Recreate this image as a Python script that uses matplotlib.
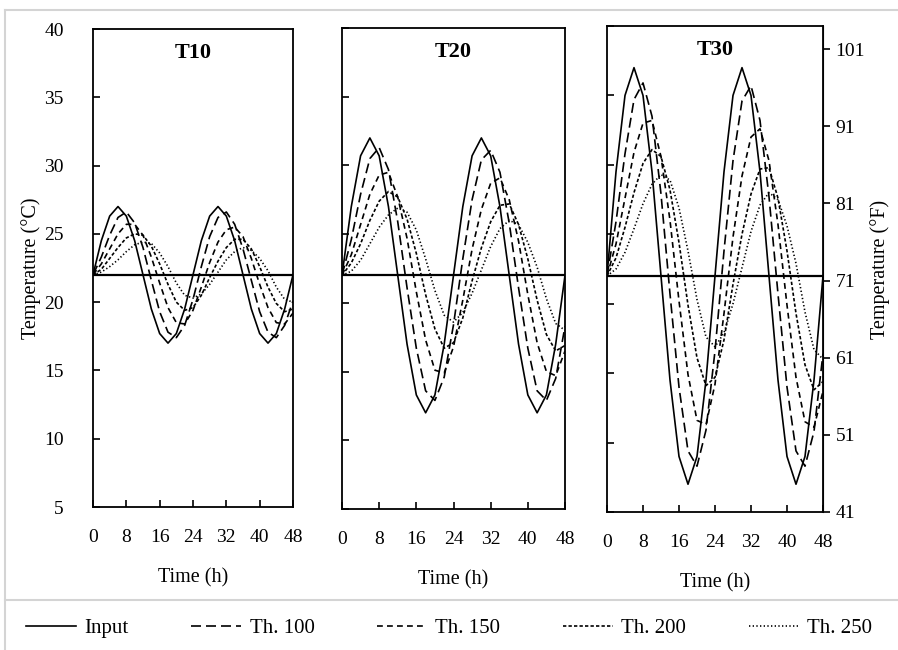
import matplotlib
matplotlib.use('Agg')
import matplotlib.pyplot as plt
from matplotlib.lines import Line2D

# ---------------- data ----------------
hours = [0, 2, 4, 6, 8, 10, 12, 14, 16, 18, 20, 22, 24, 26, 28, 30, 32, 34, 36, 38, 40, 42, 44, 46, 48]
x_ticks = [0, 8, 16, 24, 32, 40, 48]
c_ticks = [5, 10, 15, 20, 25, 30, 35, 40]
f_ticks = [41, 51, 61, 71, 81, 91, 101]
setpoint = 22
panel_titles = ['T10', 'T20', 'T30']
series_names = ['Input', 'Th. 100', 'Th. 150', 'Th. 200', 'Th. 250']

t10_input = [22.0, 24.5, 26.3, 27.0, 26.3, 24.5, 22.0, 19.5, 17.7, 17.0, 17.7, 19.5, 22.0, 24.5, 26.3, 27.0, 26.3, 24.5, 22.0, 19.5, 17.7, 17.0, 17.7, 19.5, 22.0]
t10_th100 = [22.0, 23.3, 24.9, 26.2, 26.6, 25.8, 24.0, 21.6, 19.3, 17.8, 17.4, 18.3, 20.2, 22.6, 24.8, 26.2, 26.6, 25.7, 23.9, 21.6, 19.3, 17.8, 17.4, 18.3, 20.1]
t10_th150 = [22.0, 22.8, 23.9, 25.0, 25.7, 25.7, 24.9, 23.3, 21.4, 19.6, 18.5, 18.4, 19.4, 21.1, 22.9, 24.4, 25.3, 25.5, 24.8, 23.2, 21.3, 19.6, 18.5, 18.4, 19.2]
t10_th200 = [22.0, 22.4, 23.2, 24.0, 24.7, 25.0, 24.9, 24.1, 22.8, 21.3, 20.0, 19.4, 19.6, 20.5, 21.8, 23.0, 24.0, 24.6, 24.6, 23.9, 22.6, 21.1, 19.9, 19.3, 19.5]
t10_th250 = [22.0, 22.2, 22.6, 23.1, 23.7, 24.2, 24.4, 24.3, 23.6, 22.6, 21.4, 20.5, 20.3, 20.6, 21.3, 22.2, 23.1, 23.7, 24.0, 23.8, 23.2, 22.3, 21.1, 20.2, 20.0]

t20_input = [22.0, 27.0, 30.7, 32.0, 30.7, 27.0, 22.0, 17.0, 13.3, 12.0, 13.3, 17.0, 22.0, 27.0, 30.7, 32.0, 30.7, 27.0, 22.0, 17.0, 13.3, 12.0, 13.3, 17.0, 22.0]
t20_th100 = [22.0, 24.6, 27.9, 30.5, 31.3, 29.7, 25.9, 21.1, 16.7, 13.6, 12.9, 14.6, 18.4, 23.2, 27.5, 30.4, 31.1, 29.5, 25.8, 21.1, 16.7, 13.6, 12.9, 14.5, 18.3]
t20_th150 = [22.0, 23.5, 25.7, 27.9, 29.3, 29.5, 27.7, 24.7, 20.8, 17.3, 15.1, 14.9, 16.8, 20.2, 23.9, 26.8, 28.7, 29.1, 27.5, 24.5, 20.6, 17.1, 15.0, 14.7, 16.5]
t20_th200 = [22.0, 22.9, 24.3, 26.0, 27.4, 28.1, 27.7, 26.1, 23.6, 20.6, 18.1, 16.7, 17.1, 18.9, 21.6, 24.0, 25.9, 27.1, 27.2, 25.7, 23.2, 20.2, 17.7, 16.5, 16.9]
t20_th250 = [22.0, 22.3, 23.1, 24.3, 25.5, 26.4, 26.9, 26.6, 25.3, 23.2, 20.9, 19.1, 18.6, 19.3, 20.7, 22.4, 24.1, 25.4, 26.0, 25.7, 24.4, 22.6, 20.3, 18.5, 18.0]

t30_input = [22.0, 29.5, 35.0, 37.0, 35.0, 29.5, 22.0, 14.5, 9.0, 7.0, 9.0, 14.5, 22.0, 29.5, 35.0, 37.0, 35.0, 29.5, 22.0, 14.5, 9.0, 7.0, 9.0, 14.5, 22.0]
t30_th100 = [22.0, 25.9, 30.8, 34.7, 35.9, 33.5, 27.9, 20.7, 14.0, 9.4, 8.3, 10.9, 16.6, 23.8, 30.3, 34.6, 35.7, 33.2, 27.7, 20.7, 14.0, 9.4, 8.3, 10.8, 16.4]
t30_th150 = [22.0, 24.3, 27.6, 30.9, 33.0, 33.2, 30.6, 26.0, 20.2, 14.9, 11.6, 11.3, 14.2, 19.3, 24.8, 29.2, 32.0, 32.6, 30.3, 25.7, 19.9, 14.7, 11.5, 11.1, 13.7]
t30_th200 = [22.0, 23.3, 25.5, 28.0, 30.1, 31.1, 30.6, 28.2, 24.4, 19.9, 16.1, 14.1, 14.7, 17.4, 21.4, 25.0, 27.9, 29.7, 29.8, 27.6, 23.8, 19.3, 15.6, 13.8, 14.4]
t30_th250 = [22.0, 22.5, 23.7, 25.4, 27.2, 28.6, 29.3, 28.9, 26.9, 23.8, 20.3, 17.6, 16.9, 17.9, 20.0, 22.6, 25.2, 27.1, 28.0, 27.5, 25.6, 22.9, 19.4, 16.7, 16.0]

panels = [
    [t10_input, t10_th100, t10_th150, t10_th200, t10_th250],
    [t20_input, t20_th100, t20_th150, t20_th200, t20_th250],
    [t30_input, t30_th100, t30_th150, t30_th200, t30_th250],
]

# ---------------- styling ----------------
plt.rcParams['font.family'] = ['Liberation Serif', 'DejaVu Serif']
W, H = 898, 650
fig = plt.figure(figsize=(W / 100, H / 100), dpi=100)

styles = ['-', (0, (6, 3)), (0, (3.5, 2.5)), (0, (2, 1.3)), (0, (0.8, 1.4))]
boxes = [(93, 29, 293, 507), (342, 28, 565, 509), (607, 26, 823, 512)]

# light grey frame lines of the original figure
grey = '#d4d4d4'
fig.add_artist(Line2D([5 / W, 1], [1 - 10 / H, 1 - 10 / H], color=grey, lw=1.5))
fig.add_artist(Line2D([5 / W, 5 / W], [0, 1 - 10 / H], color=grey, lw=1.5))
fig.add_artist(Line2D([5 / W, 1], [1 - 600 / H, 1 - 600 / H], color=grey, lw=1.5))

for idx, ((x0, y0, x1, y1), series, title) in enumerate(zip(boxes, panels, panel_titles)):
    ax = fig.add_axes([x0 / W, 1 - y1 / H, (x1 - x0) / W, (y1 - y0) / H])
    for vals, ls in zip(series, styles):
        ax.plot(hours, vals, color='black', lw=1.2, linestyle=ls)
    ax.axhline(setpoint, color='black', lw=1.6)
    ax.set_xlim(hours[0], hours[-1])
    ax.set_ylim(c_ticks[0], c_ticks[-1])
    ax.set_xticks(x_ticks)
    ax.set_yticks(c_ticks)
    ax.tick_params(direction='in', length=5, width=1.2, labelsize=14)
    ax.tick_params(axis='x', pad=16)
    ax.tick_params(axis='y', pad=21)
    if idx == 0:
        ax.set_ylabel('Temperature (°C)', fontsize=14.5, labelpad=2)
    else:
        ax.set_yticklabels([])
    ax.set_xlabel('Time (h)', fontsize=14.5, labelpad=16)
    for s in ax.spines.values():
        s.set_linewidth(1.3)
    ax.text(0.5, 0.95, title, transform=ax.transAxes, ha='center', va='center',
            fontsize=16, fontweight='bold')
    if idx == 2:
        sec = ax.secondary_yaxis('right', functions=(lambda c: c * 1.8 + 32,
                                                     lambda f: (f - 32) / 1.8))
        sec.set_yticks(f_ticks)
        sec.tick_params(direction='out', length=5, width=1.2, labelsize=14, pad=4)
        sec.set_ylabel('Temperature (°F)', fontsize=14.5, labelpad=4)

handles = [Line2D([], [], color='black', lw=1.2, linestyle=ls) for ls in styles]
fig.legend(handles, series_names, loc='center', bbox_to_anchor=(0.5, 1 - 628 / H),
           ncol=5, frameon=False, fontsize=15, handlelength=2.4, handletextpad=0.4,
           columnspacing=3.0)

fig.savefig('out.png', dpi=100)
